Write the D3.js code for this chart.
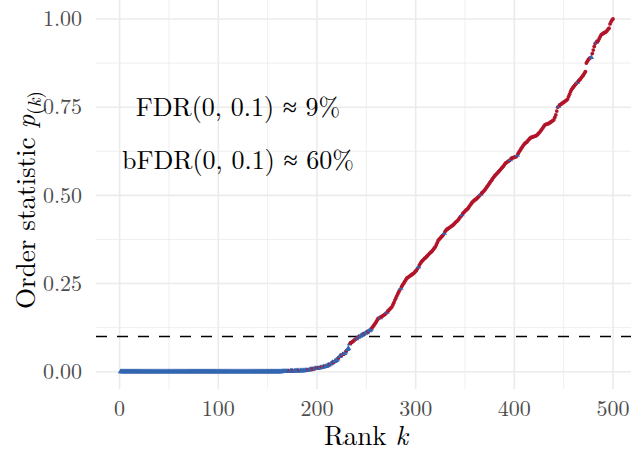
<!DOCTYPE html>
<html>
<head>
<meta charset="utf-8">
<script src="https://cdnjs.cloudflare.com/ajax/libs/d3/7.8.5/d3.min.js"></script>
<style>
	body { margin: 0; background: #fff; }
	svg { display: block; font-family: "Latin Modern Roman", "CMU Serif", "Liberation Serif", serif; }
	.grid line { stroke: #ebebeb; }
	.tick-label { fill: #4d4d4d; font-size: 22px; }
	.title { fill: #000; font-size: 27px; }
	.note { fill: #000; font-size: 26px; }
</style>
</head>
<body>
<svg id="chart" width="631" height="451"></svg>
<script>
// sorted p-values, rank 1..500
var pvals = [
	0,0,0,0,0,0,0,0,0,0, 0,0,0,0,0,0,0,0,0,0, 0,0,0,0,0,0,0,0,0,0, 0,0,0,0,0,0,0,0,0,0, 0,0,0,0,0,0,0,0,0,0,
	0,0,0,0,0,0,0,0,0,0, 0,0,0,0,0,0,0,0,0,0, 0,0,0,0,0,0,0,0,0,0, 0,0,0,0,0,0,0,0,0,0, 0,0,0,0,0,0,0,0,0,0,
	0,0,0,0,0,0,0,0,0,0, 0,0,0,0,0,0,0,0,0,0, 0,0,0,0,0,0,0,0,0,0, 0,0,0,0,0,0,0,0,0,0, 0,0,0,0,0,0,0,0,0,0,
	0,0,0,0,0,0,0,0,0,0, 0,0,0,0,0.001,0.001,0.001,0.001,0.001,0.001,
	0.001,0.002,0.002,0.002,0.002,0.002,0.002,0.002,0.002,0.003,
	0.003,0.003,0.003,0.003,0.003,0.003,0.003,0.004,0.004,0.004,
	0.005,0.005,0.006,0.007,0.007,0.008,0.008,0.009,0.009,0.010,
	0.010,0.011,0.011,0.012,0.013,0.013,0.014,0.015,0.015,0.016,
	0.018,0.019,0.021,0.022,0.024,0.026,0.027,0.029,0.031,0.033,
	0.036,0.040,0.043,0.045,0.047,0.049,0.050,0.052,0.056,0.060,
	0.063,0.066,0.079,0.081,0.083,0.085,0.087,0.090,0.092,0.094,
	0.096,0.098,0.100,0.101,0.103,0.104,0.106,0.108,0.109,0.111,
	0.112,0.114,0.116,0.118,0.121,0.125,0.129,0.133,0.137,0.141,
	0.146,0.151,0.152,0.153,0.155,0.157,0.159,0.161,0.163,0.166,
	0.169,0.172,0.175,0.178,0.181,0.184,0.190,0.196,0.203,0.209,
	0.215,0.221,0.227,0.232,0.237,0.242,0.247,0.251,0.256,0.260,
	0.265,0.267,0.269,0.271,0.273,0.275,0.277,0.279,0.282,0.285,
	0.288,0.293,0.298,0.303,0.308,0.312,0.315,0.318,0.321,0.323,
	0.326,0.329,0.332,0.335,0.338,0.340,0.343,0.347,0.351,0.354,
	0.360,0.366,0.373,0.376,0.379,0.382,0.385,0.388,0.393,0.398,
	0.402,0.404,0.406,0.408,0.410,0.412,0.414,0.416,0.419,0.422,
	0.425,0.427,0.430,0.434,0.438,0.441,0.445,0.449,0.452,0.455,
	0.458,0.460,0.463,0.467,0.471,0.475,0.479,0.482,0.485,0.487,
	0.489,0.491,0.494,0.497,0.500,0.503,0.506,0.509,0.512,0.515,
	0.519,0.523,0.527,0.531,0.535,0.539,0.543,0.547,0.551,0.555,
	0.558,0.561,0.564,0.567,0.570,0.573,0.577,0.580,0.583,0.587,
	0.591,0.593,0.595,0.597,0.599,0.601,0.605,0.606,0.607,0.608,
	0.609,0.610,0.614,0.619,0.624,0.628,0.633,0.637,0.641,0.645,
	0.648,0.650,0.652,0.656,0.659,0.662,0.664,0.665,0.666,0.667,
	0.668,0.669,0.671,0.674,0.677,0.680,0.684,0.688,0.692,0.696,
	0.700,0.701,0.702,0.703,0.704,0.706,0.708,0.710,0.712,0.714,
	0.721,0.728,0.739,0.750,0.753,0.756,0.758,0.760,0.762,0.764,
	0.766,0.768,0.770,0.773,0.780,0.787,0.794,0.800,0.804,0.808,
	0.811,0.815,0.818,0.821,0.824,0.827,0.830,0.834,0.838,0.841,
	0.846,0.851,0.875,0.880,0.885,0.888,0.890,0.891,0.902,0.912,
	0.922,0.931,0.934,0.936,0.938,0.944,0.950,0.955,0.957,0.959,
	0.961,0.962,0.964,0.967,0.971,0.974,0.986,0.992,0.997,1.000
];

// group of each rank: b = signal (blue), r = null (red)
var groups = [
	"bbbbbbbbbbbbbbbbbbbbbbbbbbbbbbbbbbbbbbbbbbbbbbbbbb",
	"bbbbbbbbbbbbbbbbbbbbbbbbbbbbbbbbbbbbbbbbbbbbbbbbbb",
	"bbbbbbbbbbbbbbbbbbbbbbbbbbbbbbbbbbbbbbbbbbbbbbbbbb",
	"bbbbbbbbbbbbbbbbbbbbbrbbbrbbbbbrbbbbbbbbrbbbrbrbbrb",
	"rbbrbbrbbbbrbbbrbbbbrbbrbrbbrbbbrrrrrrbrbrbbbbrbbb",
	"rbbbrrrrrrrrbrrrrrrbrrrrrrrrrrrrrbrrrrrrrrrrrrrrrr",
	"rbrrrrrrrrrrrrrrrrrrrrrrrrrbrrrrrrrrrrrrrrrrrbrrrr",
	"rrrrrrrrrrrrrrbrrrrrrrrrrrrrrrrrrrrrrrrrrrrrbrrrrr",
	"rbrrrrrrrrrrrrrrrrrrrrrrrrrrrrrrrrrrrrrrrrrbrrrrrr",
	"rrrrrrrrrrrrbrrrrrrrrrrrrrbrrrrbrrrrrrrrrrrrrrrrrr"
].join("");

var xTicks = [0, 100, 200, 300, 400, 500];
var xMinor = [50, 150, 250, 350, 450];
var yTicks = [0, 0.25, 0.5, 0.75, 1];
var yMinor = [0.125, 0.375, 0.625, 0.875];
var alpha = 0.1;
var notes = [
	{ pre: "FDR(0, 0.1) \u2248 9%", x: 120, y: 0.75 },
	{ pre: "bFDR(0, 0.1) \u2248 60%", x: 120, y: 0.6 }
];

var colors = { b: "#3366b1", r: "#b2142a" };

var svg = d3.select("#chart");
var panel = { left: 96, right: 631, top: 0, bottom: 389 };

var x = d3.scaleLinear().domain([0, 500]).range([119.6, 613]);
var y = d3.scaleLinear().domain([0, 1]).range([371.7, 19]);

var data = pvals.map(function(p, i) {
	return { k: i + 1, p: p, g: groups[i] };
});

// grid
var grid = svg.append("g").attr("class", "grid");
grid.selectAll("line.ymin").data(yMinor).enter().append("line")
	.attr("x1", panel.left).attr("x2", panel.right)
	.attr("y1", y).attr("y2", y)
	.attr("stroke-width", 0.8);
grid.selectAll("line.xmin").data(xMinor).enter().append("line")
	.attr("y1", panel.top).attr("y2", panel.bottom)
	.attr("x1", x).attr("x2", x)
	.attr("stroke-width", 0.8);
grid.selectAll("line.ymaj").data(yTicks).enter().append("line")
	.attr("x1", panel.left).attr("x2", panel.right)
	.attr("y1", y).attr("y2", y)
	.attr("stroke-width", 1.6);
grid.selectAll("line.xmaj").data(xTicks).enter().append("line")
	.attr("y1", panel.top).attr("y2", panel.bottom)
	.attr("x1", x).attr("x2", x)
	.attr("stroke-width", 1.6);

// threshold
svg.append("line")
	.attr("x1", panel.left).attr("x2", panel.right)
	.attr("y1", y(alpha)).attr("y2", y(alpha))
	.attr("stroke", "#000")
	.attr("stroke-width", 1.5)
	.attr("stroke-dasharray", "11,10");

// points
var tri = d3.symbol().type(d3.symbolTriangle).size(13);
var pts = svg.append("g");
data.forEach(function(d) {
	if (d.g == "b") {
		pts.append("path")
			.attr("d", tri)
			.attr("transform", "translate(" + x(d.k) + "," + y(d.p) + ")")
			.attr("fill", colors.b);
	} else {
		pts.append("circle")
			.attr("cx", x(d.k))
			.attr("cy", y(d.p))
			.attr("r", 1.9)
			.attr("fill", colors.r);
	}
});

// tick labels
svg.selectAll("text.xl").data(xTicks).enter().append("text")
	.attr("class", "tick-label")
	.attr("x", x)
	.attr("y", 416)
	.attr("text-anchor", "middle")
	.text(function(d) { return d; });
svg.selectAll("text.yl").data(yTicks).enter().append("text")
	.attr("class", "tick-label")
	.attr("x", 82)
	.attr("y", y)
	.attr("dy", "0.33em")
	.attr("text-anchor", "end")
	.text(function(d) { return d3.format(".2f")(d); });

// axis titles
var xt = svg.append("text")
	.attr("class", "title")
	.attr("x", 366)
	.attr("y", 445)
	.attr("text-anchor", "middle");
xt.append("tspan").text("Rank ");
xt.append("tspan").attr("font-style", "italic").text("k");

var yt = svg.append("text")
	.attr("class", "title")
	.attr("transform", "translate(35,200) rotate(-90)")
	.attr("text-anchor", "middle");
yt.append("tspan").text("Order statistic ");
yt.append("tspan").attr("font-style", "italic").text("p");
yt.append("tspan").attr("font-size", "19px").attr("dy", 6).text("(");
yt.append("tspan").attr("font-size", "19px").attr("font-style", "italic").text("k");
yt.append("tspan").attr("font-size", "19px").text(")");

// annotations
svg.selectAll("text.note").data(notes).enter().append("text")
	.attr("class", "note")
	.attr("x", function(d) { return x(d.x); })
	.attr("y", function(d) { return y(d.y); })
	.attr("dy", "0.33em")
	.attr("text-anchor", "middle")
	.text(function(d) { return d.pre; });
</script>
</body>
</html>
